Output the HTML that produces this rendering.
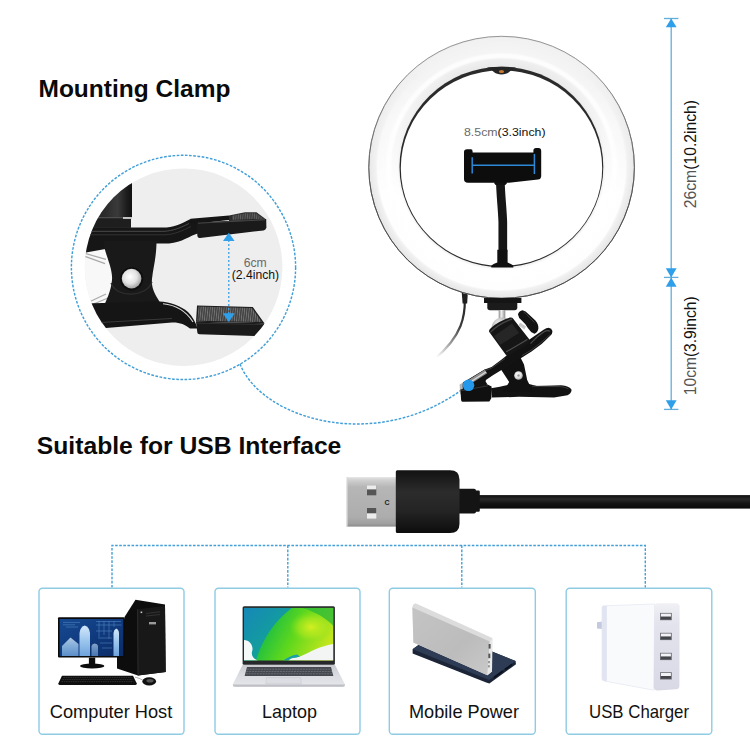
<!DOCTYPE html>
<html><head><meta charset="utf-8">
<style>
html,body{margin:0;padding:0;background:#fff;}
body{width:750px;height:750px;overflow:hidden;font-family:"Liberation Sans",sans-serif;}
svg{display:block;}
text{font-family:"Liberation Sans",sans-serif;}
</style></head><body>
<svg width="750" height="750" viewBox="0 0 750 750">
<defs>
<radialGradient id="ringG" cx="0.5" cy="0.5" r="0.5">
<stop offset="0.76" stop-color="#e8e8e8"/>
<stop offset="0.82" stop-color="#efefef"/>
<stop offset="0.838" stop-color="#fdfdfd"/>
<stop offset="0.858" stop-color="#fdfdfd"/>
<stop offset="0.875" stop-color="#f5f5f5"/>
<stop offset="0.985" stop-color="#f1f1f1"/>
<stop offset="1" stop-color="#e4e4e4"/>
</radialGradient>
<radialGradient id="ringG2" cx="0.5" cy="0.5" r="0.5">
<stop offset="0.76" stop-color="#f0f0f0"/>
<stop offset="0.782" stop-color="#ffffff"/>
<stop offset="0.93" stop-color="#fefefe"/>
<stop offset="0.945" stop-color="#f1f1f1"/>
<stop offset="0.988" stop-color="#e7e7e7"/>
<stop offset="1" stop-color="#cfcfcf"/>
</radialGradient>
<linearGradient id="ringMaskG" x1="0" y1="70" x2="0" y2="200" gradientUnits="userSpaceOnUse">
<stop offset="0" stop-color="#000"/><stop offset="1" stop-color="#fff"/>
</linearGradient>
<mask id="ringMask" maskUnits="userSpaceOnUse" x="360" y="30" width="290" height="280"><rect x="360" y="30" width="290" height="280" fill="url(#ringMaskG)"/></mask>
<linearGradient id="metalG" x1="0" y1="0" x2="0" y2="1">
<stop offset="0" stop-color="#e4e4e4"/><stop offset="0.06" stop-color="#d0d0d0"/><stop offset="0.2" stop-color="#b6b6b6"/><stop offset="0.8" stop-color="#adadad"/><stop offset="0.94" stop-color="#a0a0a0"/><stop offset="1" stop-color="#8a8a8a"/>
</linearGradient>
<linearGradient id="cableFade" x1="465" y1="300" x2="438" y2="358" gradientUnits="userSpaceOnUse">
<stop offset="0" stop-color="#222"/><stop offset="0.4" stop-color="#3c3c3c"/><stop offset="0.7" stop-color="#9a9a9a"/><stop offset="1" stop-color="#fff"/>
</linearGradient>
<linearGradient id="cylG" x1="60" y1="0" x2="132" y2="0" gradientUnits="userSpaceOnUse">
<stop offset="0" stop-color="#1a1a1a"/><stop offset="0.62" stop-color="#2b2b2b"/><stop offset="0.8" stop-color="#3a3a3a"/><stop offset="0.93" stop-color="#1c1c1c"/><stop offset="1" stop-color="#111"/>
</linearGradient>
<radialGradient id="rivetG" cx="0.42" cy="0.4" r="0.65">
<stop offset="0" stop-color="#ffffff"/><stop offset="0.55" stop-color="#e2e2e2"/><stop offset="1" stop-color="#9a9a9a"/>
</radialGradient>
<linearGradient id="stemG" x1="0" y1="0" x2="1" y2="0">
<stop offset="0" stop-color="#888"/><stop offset="0.4" stop-color="#f2f2f2"/><stop offset="1" stop-color="#8c8c8c"/>
</linearGradient>
<radialGradient id="ballG" cx="0.35" cy="0.3" r="0.75">
<stop offset="0" stop-color="#f4f4f4"/><stop offset="0.5" stop-color="#b5b5b5"/><stop offset="1" stop-color="#555"/>
</radialGradient>
<linearGradient id="bhG" x1="0" y1="0" x2="1" y2="0">
<stop offset="0" stop-color="#1b1b1b"/><stop offset="0.3" stop-color="#2f2f2f"/><stop offset="0.55" stop-color="#1a1a1a"/><stop offset="1" stop-color="#0c0c0c"/>
</linearGradient>
<linearGradient id="cabG" x1="0" y1="0" x2="0" y2="1">
<stop offset="0" stop-color="#0e0e0e"/><stop offset="0.3" stop-color="#2a2a2a"/><stop offset="0.6" stop-color="#151515"/><stop offset="1" stop-color="#0a0a0a"/>
</linearGradient>
<linearGradient id="housG" x1="0" y1="0" x2="0" y2="1">
<stop offset="0" stop-color="#121212"/><stop offset="0.35" stop-color="#2c2c2c"/><stop offset="0.65" stop-color="#242424"/><stop offset="1" stop-color="#0d0d0d"/>
</linearGradient>
<linearGradient id="scrPC" x1="0" y1="0" x2="1" y2="1">
<stop offset="0" stop-color="#164a92"/><stop offset="0.5" stop-color="#103a7e"/><stop offset="1" stop-color="#0b2c66"/>
</linearGradient>
<linearGradient id="lapBase" x1="0" y1="0" x2="0" y2="1">
<stop offset="0" stop-color="#c9cad0"/><stop offset="0.5" stop-color="#dcdde2"/><stop offset="1" stop-color="#e6e7eb"/>
</linearGradient>
<linearGradient id="scrLap" x1="0" y1="0.2" x2="1" y2="0.5">
<stop offset="0" stop-color="#18a58a"/><stop offset="0.3" stop-color="#22c040"/><stop offset="0.6" stop-color="#5fd81c"/><stop offset="1" stop-color="#c2e61c"/>
</linearGradient>
<linearGradient id="lapTeal" x1="0" y1="0" x2="1" y2="1">
<stop offset="0" stop-color="#1687b8"/><stop offset="0.6" stop-color="#13a09a"/><stop offset="1" stop-color="#1cb86a"/>
</linearGradient>
<clipPath id="lapClip"><rect x="244" y="607.9" width="89.3" height="52.6"/></clipPath>
<linearGradient id="pbFace" x1="0" y1="0" x2="1" y2="1">
<stop offset="0" stop-color="#c4c4c4"/><stop offset="0.6" stop-color="#bcbcbc"/><stop offset="1" stop-color="#c9c9c9"/>
</linearGradient>
<pattern id="padTex" width="2.3" height="1.7" patternUnits="userSpaceOnUse" patternTransform="skewX(-6)">
<rect width="2.3" height="1.7" fill="#222"/><rect x="0.45" y="0.3" width="1.4" height="1.1" fill="#a2a2a2"/>
</pattern>
<radialGradient id="lapYel" cx="0.5" cy="0.5" r="0.5">
<stop offset="0" stop-color="#d8f020" stop-opacity="0.95"/><stop offset="0.6" stop-color="#b8ea20" stop-opacity="0.5"/><stop offset="1" stop-color="#80e020" stop-opacity="0"/>
</radialGradient>
<linearGradient id="chFront" x1="0" y1="0" x2="0" y2="1">
<stop offset="0" stop-color="#f0f0f5"/><stop offset="0.25" stop-color="#e2e3ec"/><stop offset="1" stop-color="#d8d9e5"/>
</linearGradient>
<linearGradient id="bldG" x1="0" y1="0" x2="0" y2="1">
<stop offset="0" stop-color="#d4e8fa"/><stop offset="0.5" stop-color="#9cc6ee"/><stop offset="1" stop-color="#6fa4dc"/>
</linearGradient>
<clipPath id="clampClip"><circle cx="183.6" cy="267.2" r="98.8"/></clipPath>
</defs>
<rect width="750" height="750" fill="#fff"/>

<!-- ===== TITLES ===== -->
<text x="38.5" y="97.3" font-size="24.5" font-weight="bold" fill="#0a0a0a">Mounting Clamp</text>
<text x="36.8" y="454.3" font-size="24.7" font-weight="bold" fill="#0a0a0a">Suitable for USB Interface</text>

<!-- ===== CLAMP DETAIL CIRCLE ===== -->
<g id="clampDetail">
<circle cx="183.6" cy="267.2" r="98.8" fill="#eeeeee"/>
<circle cx="183.5" cy="267.4" r="112.1" fill="none" stroke="#429fd8" stroke-width="1.45" stroke-dasharray="2.7 1.5"/>
<path d="M240 364 C262 420 380 455 468 385" fill="none" stroke="#429fd8" stroke-width="1.45" stroke-dasharray="2.7 1.5"/>
<g clip-path="url(#clampClip)">
<ellipse cx="100" cy="280" rx="22" ry="40" fill="#f8f8f8"/>
<!-- springs -->
<g stroke="#a9a9a9" stroke-width="1.2" fill="none">
<path d="M85 253.4 L106 259.4"/><path d="M85 256.4 L105 263.6"/>
<path d="M88 302.5 L106 294"/><path d="M90 305.5 L108 298"/>
</g>
<!-- ball head cylinder -->
<rect x="60" y="165" width="72" height="52.3" fill="url(#cylG)"/>
<rect x="60" y="217.3" width="72" height="1.6" fill="#cfcfcf"/>
<rect x="60" y="217.3" width="63" height="1.6" fill="#1b1b1b"/>
<rect x="60" y="218.9" width="71" height="9" fill="#1e1e1e"/>
<!-- upper arm -->
<path d="M70 227.6 H163 C173 227.6 181 224 190.5 219 L199 222 L199 233 C190 235.5 182 242.5 169 243.5 H156 L104 249.2 L86 252.4 H70 Z" fill="#161616"/>
<path d="M84 231.3 H164 C173 231 181 227.5 189 223.5" stroke="#4a4a4a" stroke-width="1" fill="none"/>
<path d="M84 234.8 H165 C174 234.5 182 231 191 226.5" stroke="#333" stroke-width="1" fill="none"/>
<!-- neck -->
<path d="M103 241 C105 255 113 268 112 280 C111 292 106 300 103 309 L161 304 C156 296 151 289 152 279 C153 268 156.5 258 156.5 241 Z" fill="#191919"/>
<path d="M111 283 C116 298 146 298 152 282" stroke="#2e2e2e" stroke-width="1.2" fill="none"/>
<!-- lower arm -->
<path d="M80 303.5 L159 301.5 C171 302 181 306 188 312 C192.5 316.5 195.5 322 197.5 328.5 L190 328.5 C185 324.5 180 322.3 172 322.5 L106 328 L80 326 Z" fill="#151515"/>
<path d="M163 303.8 C175 305 186 311 193 322" stroke="#d8d8d8" stroke-width="1.1" fill="none"/>
<path d="M100 322.5 L172 318.5" stroke="#3a3a3a" stroke-width="1" fill="none"/>
<!-- rivet -->
<circle cx="131.6" cy="278.8" r="11.6" fill="#0e0e0e"/>
<circle cx="131.6" cy="278.6" r="9.8" fill="url(#rivetG)"/>
<!-- upper jaw -->
<path d="M190.5 218.8 L229 215.4 L229 220 L197 223.6 L190.8 222.8 Z" fill="#151515"/>
<path d="M229 215.4 L245 212.3 L256.5 212.3 L266.2 219.5 L229 221 Z" fill="#2c2c2c"/>
<path d="M232 215.8 L245.4 213.2 L256 213.2 L263.6 218.8 L232 219.8 Z" fill="url(#padTex)" opacity="0.75"/>
<path d="M196.6 222.6 L266.2 219 L266.4 227.5 Q266 230 263.5 230.4 L200 238 Q197.6 238.2 197.4 236 Z" fill="#1a1a1a"/>
<path d="M198 223.2 L265 219.8" stroke="#4c4c4c" stroke-width="0.9"/>
<!-- lower pad -->
<path d="M197 305.4 L252.8 307 L264.4 323.3 L196 321.8 Z" fill="#1d1d1d"/>
<path d="M198.5 306.6 L252 308 L261.8 322 L197.4 320.8 Z" fill="url(#padTex)"/>
<path d="M196 321.8 L264.4 323.3 L264.4 325.5 L254.5 336 L199.4 334.2 Q197.4 334 197.3 332.2 Z" fill="#1a1a1a"/>
<path d="M197 323.2 L263.6 324.6" stroke="#333" stroke-width="0.9"/>
</g>
<!-- arrow -->
<line x1="228.8" y1="240" x2="228.8" y2="314" stroke="#3a9fe4" stroke-width="1.3" stroke-dasharray="2 2"/>
<path d="M228.8 232.7 L234.6 240.9 L223 240.9Z" fill="#2f9fea"/>
<path d="M228.8 322 L234.8 313.3 L222.8 313.3Z" fill="#2f9fea"/>
<text x="255.2" y="266.8" font-size="12.2" text-anchor="middle" fill="#6a6a6a">6cm</text>
<text x="255.4" y="278.7" font-size="12.2" text-anchor="middle" fill="#111">(2.4inch)</text>
</g>

<!-- ===== RING LIGHT ===== -->
<g id="ring">
<!-- power cable -->
<path d="M464.8 300 C465 310 463.6 318 460.5 326 C456.5 336 448 348 434 359.5" fill="none" stroke="url(#cableFade)" stroke-width="2.2"/>
<path d="M461.6 291 L467.8 293.5 L467.2 303.4 L462.6 303.4 Z" fill="#1f1f1f"/>
<ellipse cx="501.6" cy="167.3" rx="133.2" ry="131.4" fill="url(#ringG)"/>
<ellipse cx="501.6" cy="167.3" rx="133.2" ry="131.4" fill="url(#ringG2)" mask="url(#ringMask)"/>
<ellipse cx="501.6" cy="167.3" rx="132.8" ry="131" fill="none" stroke="#8c8c8c" stroke-width="0.9"/>
<ellipse cx="501.6" cy="167.3" rx="132.8" ry="131" fill="none" stroke="#4a4a4a" stroke-width="1" mask="url(#ringMask)"/>
<ellipse cx="501.4" cy="166.9" rx="101.9" ry="100.2" fill="#2b2b2b"/>
<ellipse cx="501.5" cy="168.1" rx="100.7" ry="97.8" fill="#fff"/>
<!-- top notch -->
<path d="M487 67.6 Q501.5 65.8 516 67.6 Q511 70 508.5 72.6 Q506.5 74.4 501.5 74.4 Q496.5 74.4 494.5 72.6 Q492 70 487 67.6Z" fill="#252525"/>
<ellipse cx="501.5" cy="71.6" rx="2.6" ry="1.5" fill="#c77a30"/>
<!-- label -->
<text x="464" y="135.7" font-size="11.7" textLength="81.6" lengthAdjust="spacingAndGlyphs"><tspan fill="#6a6a6a">8.5cm</tspan><tspan fill="#111">(3.3inch)</tspan></text>
<!-- gooseneck -->
<path d="M500.3 180 C500.6 195 502.3 208 502.8 222 L502.8 252" fill="none" stroke="#161616" stroke-width="8.7"/>
<path d="M494.4 181 H506.7 V183.6 L505.3 185 H495.6 L494.4 183.6Z" fill="#111"/>
<path d="M497.3 249.7 H507.6 V262.6 Q511 263.6 513.3 265.4 V267.6 H491.3 V265.4 Q494 263.6 497.3 262.6 Z" fill="#111"/>
<!-- phone holder -->
<path d="M464 152 Q464 149.2 467 149.2 L471 149.2 Q472.6 149.2 472.6 151.5 L472.6 152.6 L533.4 152.6 L533.4 150.5 Q533.4 148 536 148 L538.5 148 Q541.2 148 541.2 151 L541.2 176 Q541.2 179 538 179.6 L509 182.8 L468 182.8 Q464 182.8 464 179 Z" fill="#0d0d0d"/>
<g stroke="#2d88d6" stroke-width="1.5" fill="none">
<path d="M472.2 165.2 H534.4"/><path d="M472.2 157.2 V173.4"/><path d="M534.4 154 V174"/>
</g>
<!-- mount under ring -->
<rect x="484" y="298" width="37.4" height="5" fill="#151515"/>
<path d="M487.3 302.8 H517.3 V307.5 Q517.3 310.2 514.5 310.2 H490 Q487.3 310.2 487.3 307.5 Z" fill="#1b1b1b"/>
<rect x="498.7" y="310" width="6.6" height="9.5" fill="url(#stemG)"/>
<!-- clamp: lower arm -->
<path d="M491 388.2 C497 387.6 503 386 508 385 L528 383.8 L537 386 L561 385.3 Q569.5 386 571.6 389.8 Q571.4 393.6 567.5 395.2 L554 397.6 L519 396.8 L492 397.6 Z" fill="#131313"/>
<path d="M532 386.3 L560 386.6 Q566 387 568.5 389" stroke="#3a3a3a" stroke-width="1" fill="none"/>
<!-- clamp: pivot body -->
<path d="M520.5 357.5 L524 364.5 L527.2 380 L533 392 L503 392 L509.2 382 L501 369.5 Z" fill="#111"/>
<circle cx="518.5" cy="375.5" r="4.3" fill="url(#rivetG)"/>
<circle cx="518.5" cy="375.5" r="1.2" fill="#999"/>
<!-- clamp: upper plate -->
<path d="M528 340.5 L536.7 334.6 L543.6 329.8 Q546.5 327.8 548.6 327.8 Q551.8 328.4 552.4 331 Q552.6 333.6 550.5 335.6 L541.9 343.8 L531.5 351.6 L522.8 357 L507.2 366.4 L493.3 375 L485.5 380.2 L466 391.5 L461.2 386 L463 382.4 L484.7 369.5 L491.6 367 L502 359.3 L507.2 355 Z" fill="#121212"/>
<path d="M530.5 343.6 L537 337 L544 331.8 Q547.5 329.8 550 331.2" stroke="#4d4d4d" stroke-width="1.1" fill="none"/>
<path d="M550.3 334.4 L541 342.6 L531 350.2 L522 355.6" stroke="#3a3a3a" stroke-width="1" fill="none"/>
<path d="M505 358.6 L491.5 368.2 L485 370.6" stroke="#3c3c3c" stroke-width="1" fill="none"/>
<path d="M462.6 383.4 L484.8 369.6 L487.4 373 L485.6 381.6 L487.5 384.6 L462 392.4 Z" fill="#131313"/>
<path d="M459.6 384.6 L462.8 382.8 L462.6 393.6 L460.2 394.6Z" fill="#b4b4b4"/>
<path d="M463.2 383.2 L484.8 369.8 L487.2 373.2 L466.2 386.8 Z" fill="#8f8f8f"/>
<path d="M465.4 385.2 L486 372" stroke="#dcdcdc" stroke-width="1.1"/>
<!-- lower jaw block -->
<path d="M460.4 389.4 L487.5 384.5 L491.6 386.6 L491.4 398 L489.4 401.6 L462.5 401.8 Q461.2 401.6 461.1 400 Z" fill="#101010"/>
<path d="M461.4 390.6 L488 385.8" stroke="#3a3a3a" stroke-width="0.9"/>
<!-- ball -->
<circle cx="502.2" cy="328" r="10.6" fill="url(#ballG)"/>
<!-- ball head body -->
<path d="M489.1 331.8 Q488.6 329.6 491 328 Q499 321 510 317.6 Q512.2 317.2 513 318.6 L529.4 339.4 Q530.2 341 528.8 342.8 L528 344 L508.6 355.6 Q506.8 356.4 505.8 354.8 Z" fill="#161616"/>
<path d="M490.4 332.4 Q498 324 512 319" stroke="#444" stroke-width="1.4" fill="none"/>
<path d="M494 336 L512 323.5 L519 333 L500 345Z" fill="#2b2b2b" opacity="0.8"/>
<path d="M506.2 351.8 L527.4 339.6" stroke="#505050" stroke-width="1.1" fill="none"/>
<!-- knob -->
<path d="M520 322.6 L526 326.6 L524.4 329.4 L518.6 325.6Z" fill="#c8c8c8"/>
<path d="M518 314.6 Q518.2 311.4 522.4 310.2 Q525.8 310.6 528.4 314 L535.4 320.6 Q538.8 324.4 538.4 328.6 Q537.6 332.8 534.4 333.8 Q530.6 332.4 528 328.2 L525.4 324.2 L521.8 320.4 Q518.2 317.8 518 314.6Z" fill="#131313"/>
<path d="M523.5 312 Q526.5 313.5 528 316 L534.5 322.5" stroke="#3a3a3a" stroke-width="1" fill="none"/>
<!-- blue dot -->
<circle cx="468.5" cy="385.3" r="5.8" fill="#2499ec"/>
</g>

<!-- ===== DIMENSION LINES ===== -->
<g id="dims" stroke="#62aeda" stroke-width="1.3" fill="none">
<line x1="671.2" y1="18.5" x2="671.2" y2="409.4"/>
<line x1="664" y1="18.5" x2="678.4" y2="18.5"/>
<line x1="664" y1="277.4" x2="678.4" y2="277.4"/>
<line x1="664" y1="409.4" x2="678.4" y2="409.4"/>
</g>
<g fill="#2f9fea">
<path d="M671.2 18.6 L676.6 27.2 L665.8 27.2Z"/>
<path d="M671.2 277.4 L676.6 268.2 L665.8 268.2Z"/>
<path d="M671.2 277.4 L676.6 286.8 L665.8 286.8Z"/>
<path d="M671.2 409.4 L676.6 400.2 L665.8 400.2Z"/>
</g>
<text transform="translate(696.4 208.2) rotate(-90)" font-size="15.8" textLength="108.2" lengthAdjust="spacingAndGlyphs"><tspan fill="#555">26cm</tspan><tspan fill="#111">(10.2inch)</tspan></text>
<text transform="translate(696.4 395.2) rotate(-90)" font-size="15.8" textLength="98.8" lengthAdjust="spacingAndGlyphs"><tspan fill="#555">10cm</tspan><tspan fill="#111">(3.9inch)</tspan></text>

<!-- ===== USB PLUG ===== -->
<g id="usb">
<rect x="478" y="495.1" width="272" height="13.5" fill="url(#cabG)"/>
<path d="M459 488.8 H474 Q476 488.8 476 490.4 H478.6 Q479.8 490.4 479.8 491.8 V510.4 Q479.8 511.8 478.6 511.8 H476 Q476 513.4 474 513.4 H459 Z" fill="#141414"/>
<rect x="346.7" y="477.1" width="50" height="49.5" fill="url(#metalG)"/>
<rect x="346.7" y="477.1" width="1" height="49.5" fill="#d6d6d6"/>
<!-- holes -->
<rect x="367" y="485.2" width="9.3" height="10.1" fill="#555"/>
<rect x="367" y="485.2" width="9.3" height="4.2" fill="#ececec"/>
<rect x="367" y="508" width="9.3" height="10.6" fill="#ededed"/>
<rect x="367" y="508" width="9.3" height="5.3" fill="#555"/>
<text x="384.6" y="504.6" font-size="7" font-weight="bold" font-family="Liberation Serif, serif" fill="#222">C</text>
<path d="M397.3 470.2 H450 Q459.5 470.2 459.5 479.5 V523.8 Q459.5 533 450 533 H397.3 Q395.8 533 395.8 531.5 V471.7 Q395.8 470.2 397.3 470.2Z" fill="url(#housG)"/>
</g>

<!-- ===== TREE LINES ===== -->
<g fill="none" stroke="#429fd8" stroke-width="1.4" stroke-dasharray="2.6 1.5">
<path d="M112 587.5 V545.5 H645.3 V587.5"/>
<path d="M287.8 545.5 V587.5"/>
<path d="M461.8 545.5 V587.5"/>
</g>

<!-- ===== BOXES ===== -->
<g fill="#fff" stroke="#8fcbe3" stroke-width="1.4">
<rect x="39" y="588.3" width="145" height="146" rx="3.5"/>
<rect x="215" y="588.3" width="145" height="146" rx="3.5"/>
<rect x="389.3" y="588.3" width="146" height="146" rx="3.5"/>
<rect x="566.2" y="588.3" width="145.6" height="146" rx="3.5"/>
</g>
<!-- ===== ICON: COMPUTER ===== -->
<g id="icoPC">
<!-- tower -->
<path d="M135.5 599.8 L165 604.4 L165.7 672 L138 675.6 L117 668.5 L117 655 L124.5 617 Z" fill="#0d0d0d"/>
<path d="M137.6 609.3 L165 606 L165.7 672 L138 675.6 Z" fill="#181818"/>
<path d="M137.6 609.3 L138 675.6" stroke="#333" stroke-width="0.8"/>
<path d="M146 613.5 L160 611.8 M146 616 L160 614.5" stroke="#3a3a3a" stroke-width="0.8"/>
<rect x="149" y="622" width="7" height="2.4" fill="#9a9a9a"/>
<rect x="140.6" y="611.5" width="1.6" height="1.6" fill="#ccc"/>
<!-- monitor -->
<rect x="58" y="617.3" width="66.4" height="40.3" rx="1" fill="#0b0b0b"/>
<rect x="59.6" y="619" width="63.6" height="37" fill="url(#scrPC)"/>
<g>
<path d="M79.5 656 V633 Q80 627 84.7 625.4 Q89.5 627 90 633 V656Z" fill="url(#bldG)"/>
<path d="M113.5 656 V633 Q113.8 629.4 116.2 628.4 Q118.8 629.4 119 633 V656Z" fill="url(#bldG)"/>
<path d="M62 656 V646 L70.5 637.5 L78.5 644 V656Z" fill="url(#bldG)" opacity="0.8"/>
<path d="M91.5 656 V646 Q92 643.6 94.7 643.4 Q97.6 643.6 98 646 V656Z" fill="url(#bldG)" opacity="0.6"/>
</g>
<g stroke="#5f97cf" stroke-width="0.55" fill="none" opacity="0.85">
<path d="M96 621.5 H121 M96 625 H121.5 M99 621 V639 M104 621 V635 M109 621 V639 M114 621 V627 M96 631 H112 M100 638 H112 M100 643 H112 M102 648 H112"/>
<path d="M63 622.4 H80 M63 624.8 H75 M66 627 H78"/>
</g>
<rect x="88.9" y="657.6" width="6.3" height="7" fill="#0c0c0c"/>
<ellipse cx="92.2" cy="666" rx="12.2" ry="2.6" fill="#0b0b0b"/>
<!-- keyboard -->
<path d="M62 675.8 H133 L136.8 683.6 Q136.8 685 135.5 685 H59.5 Q58.2 685 58.3 683.6 Z" fill="#0f0f0f"/>
<path d="M63.5 677.6 H131.5 M62.5 679.6 H132.5 M61.5 681.6 H133.5" stroke="#3c3c3c" stroke-width="0.7" stroke-dasharray="1.6 0.7"/>
<!-- mouse -->
<path d="M142.5 680 C139 678 136.5 677.5 135 677.2" stroke="#777" stroke-width="0.6" fill="none"/>
<ellipse cx="149.2" cy="681.4" rx="6.9" ry="4.2" fill="#111"/>
<ellipse cx="150" cy="680.8" rx="3.6" ry="1.8" fill="#555"/>
</g>
<!-- ===== ICON: LAPTOP ===== -->
<g id="icoLap">
<path d="M242.6 664.8 H334.9 L345 684.4 Q345.2 686.8 343 686.8 H234.8 Q232.6 686.8 232.8 684.4 Z" fill="url(#lapBase)"/>
<path d="M232.8 684.4 H345 Q345.2 686.8 343 686.8 H234.8 Q232.6 686.8 232.8 684.4Z" fill="#bfc0c6"/>
<path d="M247 666.9 H331 L333.3 676 H244.6 Z" fill="#474950"/>
<path d="M247 669.2 H331.4 M246.4 671.5 H332 M245.8 673.8 H332.6" stroke="#8a8c94" stroke-width="0.5" stroke-dasharray="2 0.8"/>
<path d="M266.6 677.6 H300.6 L301.4 683.8 H265.8 Z" fill="#dcdde2" stroke="#c4c5cb" stroke-width="0.5"/>
<rect x="242.6" y="606.3" width="92.3" height="58.4" rx="1.5" fill="#26282c"/>
<rect x="244" y="607.9" width="89.3" height="52.6" fill="url(#scrLap)"/>
<g clip-path="url(#lapClip)">
<path d="M244 607.9 H292 C275 620 262 640 256 660.5 H244Z" fill="url(#lapTeal)"/>
<path d="M244 640 C250 640 254 646 252 652 C251 656 254 659 258 660.5 H244Z" fill="#f4f8f6"/>
<ellipse cx="311" cy="627" rx="22" ry="16" fill="url(#lapYel)"/>
<path d="M333.3 644 C328 645 322 646.4 316 649 C310 651.6 304 655 300 656.6 C296 658 293 657.6 291 658.4 C289.5 659 289 660.5 288 660.5 H333.3Z" fill="#f2f5f4"/>
<path d="M333.3 607.9 V626 C326 618 316 612 302 607.9Z" fill="#2ab83a" opacity="0.75"/>
<path d="M300 656.6 C296 658 293 657.6 291 658.4 C289.5 659 289 660.5 288 660.5 H283 C287 658 292 655 297 654.6Z" fill="#1aa0a8"/>
</g>
</g>
<!-- ===== ICON: POWER BANK ===== -->
<g id="icoPB">
<path d="M412.6 649.2 L439 630.3 L515.6 661 L516 664.2 L489.4 683.6 L486.2 682.6 L412.6 653.4 Z" fill="#1b2537"/>
<path d="M412.6 649.2 L439 630.3 L515.6 661 L489.2 680 Z" fill="#2d3b54"/>
<path d="M494 677.5 L503 671 M505 669.5 L512 664.5" stroke="#0b111c" stroke-width="1.6"/>
<path d="M412.4 607 Q412.4 604.5 415.4 603.2 L492.3 638 L492 671.6 L487.4 675.2 L413.4 642.6 Z" fill="#dcdcdc"/>
<path d="M412.4 607.4 L489.8 641.4 L487.4 675.2 L413.4 642.6 Z" fill="url(#pbFace)"/>
<path d="M489.8 641.4 L492.4 638.6 L492 671.6 L487.4 675.2 Z" fill="#e9e9e9"/>
<rect x="488.6" y="644" width="2" height="4.6" fill="#555"/>
<rect x="488.3" y="653.6" width="2" height="4.6" fill="#555"/>
<rect x="488.2" y="661" width="1.6" height="2.2" fill="#888"/>
<rect x="488.1" y="665.2" width="1.6" height="2.2" fill="#888"/>
</g>
<!-- ===== ICON: CHARGER ===== -->
<g id="icoCh">
<path d="M597 622.2 L602.4 621.6 V629 L597 628.6 Z" fill="#c3c9de"/>
<path d="M602 607.6 Q602 605.9 603.8 605.8 L654.6 604 L653.8 690.2 L603.6 680.8 Q602 680.5 602 678.8 Z" fill="#f9fafc"/>
<path d="M602 607.6 Q602 605.9 603.8 605.8 L606.9 605.7 L606.9 681.4 L603.6 680.8 Q602 680.5 602 678.8 Z" fill="#e2e5f1"/>
<path d="M602 607.6 Q602 605.9 603.8 605.8 L654.6 604 L653.8 690.2 L603.6 680.8 Q602 680.5 602 678.8 Z" fill="none" stroke="#e3e6ef" stroke-width="0.7"/>
<path d="M654.4 606.5 Q654.6 603.4 658 603.3 L676 603.2 Q679.6 603.3 679.6 606.8 L679.4 685.8 Q679.4 689 676 689.3 L657.6 690.4 Q653.8 690.5 653.8 687 Z" fill="url(#chFront)"/>
<g>
<rect x="660" y="612.9" width="11.8" height="7.3" fill="#6e7078"/><rect x="660.9" y="613.7" width="10" height="3" fill="#f2f2f6"/><rect x="660.9" y="616.7" width="10" height="2.7" fill="#44464c"/>
<rect x="660" y="632.8" width="11.8" height="7.3" fill="#6e7078"/><rect x="660.9" y="633.6" width="10" height="3" fill="#f2f2f6"/><rect x="660.9" y="636.6" width="10" height="2.7" fill="#44464c"/>
<rect x="660" y="652.8" width="11.8" height="7.3" fill="#6e7078"/><rect x="660.9" y="653.6" width="10" height="3" fill="#f2f2f6"/><rect x="660.9" y="656.6" width="10" height="2.7" fill="#44464c"/>
<rect x="660" y="672.2" width="11.8" height="7.3" fill="#6e7078"/><rect x="660.9" y="673" width="10" height="3" fill="#f2f2f6"/><rect x="660.9" y="676" width="10" height="2.7" fill="#44464c"/>
</g>
</g>
<g font-size="19" fill="#111">
<text x="49.8" y="718" textLength="122.5" lengthAdjust="spacingAndGlyphs">Computer Host</text>
<text x="262" y="718" textLength="55" lengthAdjust="spacingAndGlyphs">Laptop</text>
<text x="409" y="718" textLength="110" lengthAdjust="spacingAndGlyphs">Mobile Power</text>
<text x="589" y="718" textLength="100" lengthAdjust="spacingAndGlyphs">USB Charger</text>
</g>
</svg>
</body></html>
